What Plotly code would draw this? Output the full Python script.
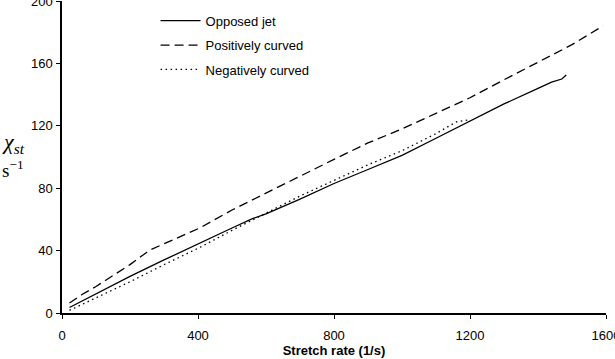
import plotly.graph_objects as go

# Opposed jet (solid)
jet_x = [22, 100, 200, 300, 400, 500, 560, 600, 700, 800, 900, 1000, 1100, 1200, 1300, 1400, 1440, 1470, 1483]
jet_y = [3.5, 12.5, 23.5, 34, 44.5, 54.5, 60.5, 63.5, 73, 83, 92, 101, 112, 123, 134, 144, 148, 150, 152.5]

# Positively curved (dashed)
pos_x = [22, 60, 100, 150, 200, 258, 300, 350, 405, 500, 600, 700, 757, 800, 900, 1000, 1100, 1160, 1200, 1300, 1400, 1500, 1591]
pos_y = [6.4, 12, 17, 24, 31, 40.3, 44.5, 49, 54.5, 66, 77, 88, 94.2, 98.5, 109, 118, 128, 134, 138, 149.5, 161, 172, 184]

# Negatively curved (dotted)
neg_x = [22, 100, 200, 300, 405, 500, 600, 700, 800, 900, 1000, 1100, 1160, 1200]
neg_y = [1.7, 9.5, 20, 31, 42, 53, 64, 75, 85, 95, 104, 115, 122.5, 124]

x_ticks = [0, 400, 800, 1200, 1600]
y_ticks = [0, 40, 80, 120, 160, 200]

fig = go.Figure()
fig.add_trace(go.Scatter(x=jet_x, y=jet_y, mode="lines", name="Opposed jet",
                         legendgroup="a", line=dict(color="black", width=1.3)))
fig.add_trace(go.Scatter(x=pos_x, y=pos_y, mode="lines", name="Positively curved",
                         legendgroup="b", line=dict(color="black", width=1.3, dash="9px,5px")))
fig.add_trace(go.Scatter(x=neg_x, y=neg_y, mode="lines", name="Negatively curved",
                         legendgroup="c", line=dict(color="black", width=1.3, dash="1.5px,3.5px")))

font = "Liberation Sans, Arial, sans-serif"
fig.update_layout(
    width=615, height=359,
    margin=dict(l=62, r=9, t=1, b=46),
    paper_bgcolor="white", plot_bgcolor="white",
    font=dict(family=font, size=13, color="black"),
    legend=dict(x=0.172, y=0.985, xanchor="left", yanchor="top",
                font=dict(size=13, family=font), itemwidth=40,
                tracegroupgap=4.5, bgcolor="rgba(0,0,0,0)"),
    xaxis=dict(range=[0, 1600], tickvals=x_ticks, showgrid=False, zeroline=False,
               showline=True, linecolor="black", linewidth=1.5,
               ticks="outside", ticklen=4, tickcolor="black", tickwidth=1.2,
               automargin=False, ticklabeloverflow="allow", ticklabelstandoff=6,
               tickfont=dict(size=13),
               title=dict(text="<b>Stretch rate (1/s)</b>", font=dict(size=13), standoff=0)),
    yaxis=dict(range=[0, 200], tickvals=y_ticks, showgrid=False, zeroline=False,
               showline=True, linecolor="black", linewidth=1.5,
               ticks="outside", ticklen=4, tickcolor="black", tickwidth=1.2,
               automargin=False, ticklabeloverflow="allow", ticklabelstandoff=1,
               tickfont=dict(size=13)),
    annotations=[
        dict(text="<i>χ</i><sub><i>st</i></sub>", x=0, y=0, xref="paper", yref="paper",
             showarrow=False, xanchor="left", yanchor="middle",
             font=dict(family="Liberation Serif, Times New Roman, serif", size=22)),
        dict(text="s<sup>−1</sup>", x=0, y=0, xref="paper", yref="paper",
             showarrow=False, xanchor="left", yanchor="middle",
             font=dict(family="Liberation Serif, Times New Roman, serif", size=19)),
    ],
)
# convert annotation pixel positions to paper coords
ph = 359 - 1 - 46
for ann, py in zip(fig.layout.annotations, [143, 169]):
    ann.y = (359 - 46 - py) / ph
    ann.x = (0 - 62) / (615 - 62 - 9)

fig.write_html("out.html")
